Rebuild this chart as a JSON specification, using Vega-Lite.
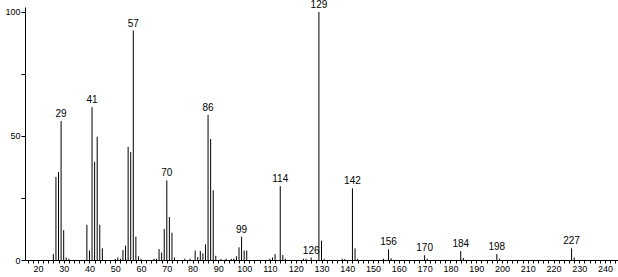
{
  "$schema": "https://vega.github.io/schema/vega-lite/v6.json",
  "width": 593,
  "height": 253,
  "autosize": "none",
  "padding": {"left": 25, "top": 7, "right": 0, "bottom": 17},
  "background": "white",
  "config": {"view": {"stroke": null}, "axis": {"labelOverlap": false}},
  "data": {
    "values": [
      {"mz": 26, "i": 2.4}, {"mz": 27, "i": 33.5}, {"mz": 28, "i": 35.5}, {"mz": 29, "i": 56, "label": "29"},
      {"mz": 30, "i": 12}, {"mz": 31, "i": 1}, {"mz": 32, "i": 0.5},
      {"mz": 39, "i": 14.2}, {"mz": 40, "i": 3.8}, {"mz": 41, "i": 61.6, "label": "41"}, {"mz": 42, "i": 39.6},
      {"mz": 43, "i": 49.7}, {"mz": 44, "i": 14.2}, {"mz": 45, "i": 4.7},
      {"mz": 50, "i": 0.4}, {"mz": 51, "i": 1}, {"mz": 52, "i": 0.5}, {"mz": 53, "i": 4}, {"mz": 54, "i": 5.8},
      {"mz": 55, "i": 45.6}, {"mz": 56, "i": 43.5}, {"mz": 57, "i": 92.5, "label": "57"}, {"mz": 58, "i": 9.4},
      {"mz": 59, "i": 1.5}, {"mz": 60, "i": 0.5}, {"mz": 65, "i": 0.5}, {"mz": 66, "i": 0.5},
      {"mz": 67, "i": 4.4}, {"mz": 68, "i": 3}, {"mz": 69, "i": 12.5}, {"mz": 70, "i": 32.1, "label": "70"},
      {"mz": 71, "i": 17.3}, {"mz": 72, "i": 11}, {"mz": 73, "i": 1}, {"mz": 77, "i": 0.5}, {"mz": 79, "i": 0.5},
      {"mz": 81, "i": 3.8}, {"mz": 82, "i": 1.2}, {"mz": 83, "i": 3.6}, {"mz": 84, "i": 2.7}, {"mz": 85, "i": 6.3},
      {"mz": 86, "i": 58.5, "label": "86"}, {"mz": 87, "i": 48.8}, {"mz": 88, "i": 28.1}, {"mz": 89, "i": 1.7},
      {"mz": 91, "i": 0.4}, {"mz": 93, "i": 0.5}, {"mz": 95, "i": 0.5}, {"mz": 96, "i": 0.5}, {"mz": 97, "i": 1.5},
      {"mz": 98, "i": 5.1}, {"mz": 99, "i": 9.4, "label": "99"}, {"mz": 100, "i": 3.8}, {"mz": 101, "i": 3.8},
      {"mz": 110, "i": 0.5}, {"mz": 111, "i": 1}, {"mz": 112, "i": 2.4}, {"mz": 114, "i": 29.8, "label": "114"},
      {"mz": 115, "i": 2}, {"mz": 116, "i": 0.5}, {"mz": 123, "i": 0.5}, {"mz": 124, "i": 0.5},
      {"mz": 126, "i": 1, "label": "126"}, {"mz": 129, "i": 100, "label": "129"}, {"mz": 130, "i": 7.8}, {"mz": 131, "i": 0.5},
      {"mz": 138, "i": 0.5}, {"mz": 139, "i": 0.3}, {"mz": 142, "i": 28.9, "label": "142"}, {"mz": 143, "i": 4.7},
      {"mz": 144, "i": 0.5}, {"mz": 154, "i": 0.5}, {"mz": 156, "i": 4.3, "label": "156"}, {"mz": 157, "i": 0.7},
      {"mz": 170, "i": 1.9, "label": "170"}, {"mz": 171, "i": 0.5}, {"mz": 184, "i": 3.6, "label": "184"}, {"mz": 185, "i": 0.8},
      {"mz": 198, "i": 2.4, "label": "198"}, {"mz": 199, "i": 0.5}, {"mz": 227, "i": 4.7, "label": "227"}, {"mz": 228, "i": 1}
    ]
  },
  "encoding": {
    "x": {
      "field": "mz", "type": "quantitative",
      "scale": {"domain": [15, 245], "nice": false, "zero": false},
      "axis": {
        "title": null, "grid": false, "domainColor": "#000", "tickColor": "#000",
        "values": [16,18,20,22,24,26,28,30,32,34,36,38,40,42,44,46,48,50,52,54,56,58,60,62,64,66,68,70,72,74,76,78,80,82,84,86,88,90,92,94,96,98,100,102,104,106,108,110,112,114,116,118,120,122,124,126,128,130,132,134,136,138,140,142,144,146,148,150,152,154,156,158,160,162,164,166,168,170,172,174,176,178,180,182,184,186,188,190,192,194,196,198,200,202,204,206,208,210,212,214,216,218,220,222,224,226,228,230,232,234,236,238,240,242,244],
        "labelExpr": "datum.value % 10 === 0 && datum.value >= 20 ? '' + datum.value : ''",
        "tickSize": 3, "labelFont": "Liberation Sans", "labelFontSize": 9, "labelColor": "#000",
        "labelPadding": 1, "labelOverlap": false, "labelFlush": false, "labelBound": false, "labelSeparation": 0
      }
    },
    "y": {
      "field": "i", "type": "quantitative",
      "scale": {"domain": [0, 102], "nice": false},
      "axis": {
        "title": null, "grid": false, "domainColor": "#000", "tickColor": "#000",
        "values": [0, 25, 50, 75, 100],
        "labelExpr": "datum.value % 50 === 0 ? '' + datum.value : ''",
        "tickSize": 4, "labelFont": "Liberation Sans", "labelFontSize": 9, "labelColor": "#000",
        "labelPadding": 1, "labelOverlap": false
      }
    }
  },
  "layer": [
    {
      "mark": {"type": "rule", "color": "#000", "strokeWidth": 1},
      "encoding": {"y2": {"datum": 0}}
    },
    {
      "transform": [{"filter": "datum.label != null"}],
      "mark": {"type": "text", "baseline": "bottom", "dy": -2, "font": "Liberation Sans", "fontSize": 10, "color": "#000"},
      "encoding": {"text": {"field": "label"}}
    }
  ]
}
